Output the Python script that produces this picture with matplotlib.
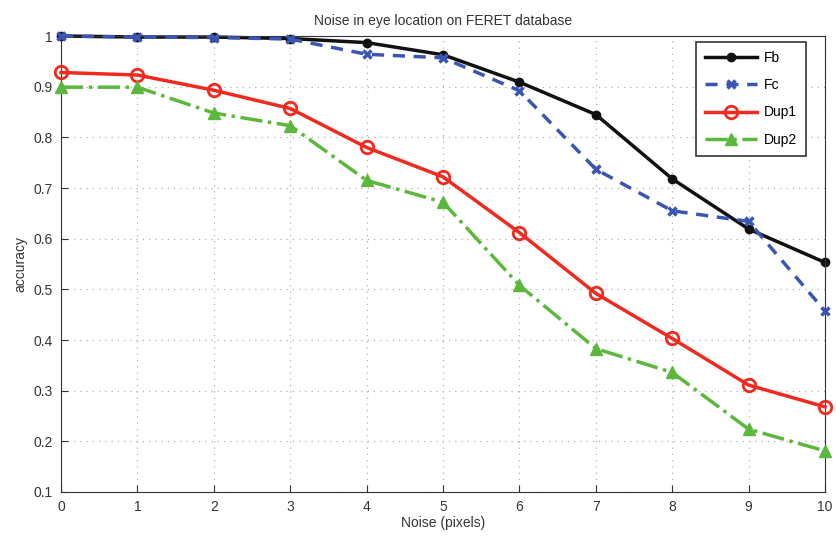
import matplotlib
matplotlib.use('Agg')
import matplotlib.pyplot as plt
import numpy as np

noise = list(range(11))
fb = [1.0, 0.998, 0.998, 0.995, 0.987, 0.963, 0.909, 0.845, 0.718, 0.619, 0.553]
fc = [1.0, 0.998, 0.997, 0.994, 0.964, 0.957, 0.892, 0.737, 0.655, 0.634, 0.457]
dup1 = [0.928, 0.923, 0.893, 0.857, 0.780, 0.722, 0.612, 0.492, 0.403, 0.311, 0.268]
dup2 = [0.899, 0.899, 0.848, 0.823, 0.715, 0.672, 0.508, 0.383, 0.336, 0.224, 0.181]

plt.rcParams['font.family'] = ['Liberation Sans', 'DejaVu Sans']
plt.rcParams['font.size'] = 10

fig = plt.figure(figsize=(8.37, 5.4), dpi=100)
ax = fig.add_axes([0.0729, 0.0889, 0.9128, 0.8444])

ax.plot(noise, fb, '-', color='#111111', lw=2.5, marker='o', ms=6, label='Fb', clip_on=False, zorder=2)
ax.plot(noise, fc, color='#3a56b4', lw=2.5, ls=(0, (3.5, 2.5)), marker='x', ms=6, mew=2.5, label='Fc', clip_on=False, zorder=3)
ax.plot(noise, dup1, '-', color='#f02a1e', lw=2.5, marker='o', ms=9, mfc='none', mew=2, label='Dup1', clip_on=False, zorder=4)
ax.plot(noise, dup2, '-.', color='#5cb83c', lw=2.5, marker='^', ms=9, label='Dup2', clip_on=False, zorder=5)

ax.set_xlim(0, 10)
ax.set_ylim(0.1, 1.0)
ax.set_xticks(noise)
ax.set_yticks(np.arange(0.1, 1.01, 0.1))
ax.set_yticklabels(['0.1', '0.2', '0.3', '0.4', '0.5', '0.6', '0.7', '0.8', '0.9', '1'])
ax.tick_params(direction='in', length=5, pad=6, colors='#333333', labelsize=10)
ax.grid(True, linestyle=(0, (1, 4)), color='#b0b0b0', lw=0.9)
for s in ax.spines.values():
    s.set_color('#333333')

ax.set_xlabel('Noise (pixels)', color='#333333', labelpad=1)
ax.set_ylabel('accuracy', color='#333333', labelpad=4)
ax.set_title('Noise in eye location on FERET database', fontsize=10, color='#333333', pad=8)

leg = ax.legend(loc='upper right', fontsize=10, fancybox=False, edgecolor='#333333', framealpha=1,
                handlelength=3.7, handletextpad=0.5, borderpad=0.65, labelspacing=0.95,
                borderaxespad=0, bbox_to_anchor=(0.975, 0.987))
leg.get_frame().set_linewidth(1.2)
leg.set_zorder(10)

fig.savefig('out.png', dpi=100)
